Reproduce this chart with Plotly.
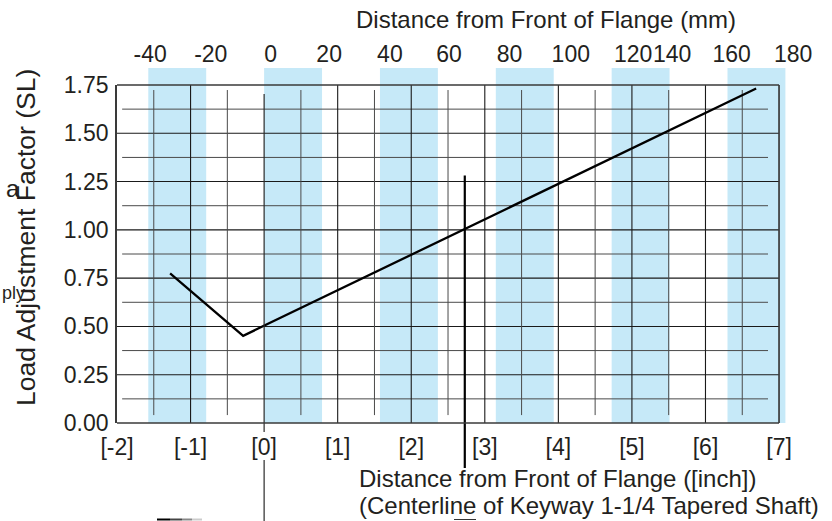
import plotly.graph_objects as go

# ---------------- data ----------------
curve_x_inch = [-1.278, -0.285, 6.689]
curve_y = [0.775, 0.4515, 1.732]

bottom_tick_vals = [-2, -1, 0, 1, 2, 3, 4, 5, 6, 7]
bottom_tick_text = ["[-2]", "[-1]", "[0]", "[1]", "[2]", "[3]", "[4]", "[5]", "[6]", "[7]"]

top_tick_text = ["-40", "-20", "0", "20", "40", "60", "80", "100", "120", "140", "160", "180"]
# positions (bottom-axis inch scale) where the mm labels are printed in the reference
top_tick_pos = [-1.550, -0.725, 0.088, 0.884, 1.710, 2.515, 3.337, 4.169, 5.016, 5.546, 6.355, 7.191]

y_tick_vals = [0, 0.25, 0.5, 0.75, 1.0, 1.25, 1.5, 1.75]

band_mm = [(-40, -20), (0, 20), (40, 60), (80, 100), (120, 140), (160, 180)]

# ---------------- layout constants ----------------
W, H = 832, 521
ML, MR, MT, MB = 117, 32, 85, 98
XR = [-2, -2 + (W - ML - MR) / 73.56]
YR = [0, 1.75]
TXT = "#231f20"
FONT = "Liberation Sans, Arial, sans-serif"

PW = W - ML - MR
PH = H - MT - MB


def xp_px(px):
    return (px - ML) / PW


def yp_px(py):
    return (H - MB - py) / PH


def xp(v):
    return (v - XR[0]) / (XR[1] - XR[0])


shapes = []
# light blue bands
for a, b in band_mm:
    shapes.append(dict(type="rect", xref="x", yref="paper", x0=a / 25.4, x1=b / 25.4,
                       y0=0, y1=yp_px(68), fillcolor="#c6e9f8", line=dict(width=0), layer="below"))

# minor horizontal lines
for i in range(14):
    yv = 0.125 + 0.25 * i
    if yv >= 1.75:
        break
    shapes.append(dict(type="line", xref="x", yref="y", x0=-1.93, x1=6.85, y0=yv, y1=yv,
                       line=dict(color="#4a4a4a", width=1), layer="below"))
# major horizontal lines
for yv in [0.25, 0.5, 0.75, 1.0, 1.25, 1.5]:
    shapes.append(dict(type="line", xref="x", yref="y", x0=-2, x1=7, y0=yv, y1=yv,
                       line=dict(color="#1a1a1a", width=1.1), layer="below"))
# minor vertical lines
for k in range(-3, 14, 2):
    xv = k / 2
    shapes.append(dict(type="line", xref="x", yref="y", x0=xv, x1=xv, y0=0.041, y1=1.724,
                       line=dict(color="#4a4a4a", width=1), layer="below"))
# major vertical lines
for xv in [-1, 1, 2, 3, 4, 5, 6]:
    shapes.append(dict(type="line", xref="x", yref="y", x0=xv, x1=xv, y0=0, y1=1.75,
                       line=dict(color="#1a1a1a", width=1.1), layer="below"))
# long line at [0]
shapes.append(dict(type="line", xref="x", yref="paper", x0=0, x1=0, y0=yp_px(94), y1=yp_px(432),
                   line=dict(color="#2a2a2a", width=1.2)))
shapes.append(dict(type="line", xref="x", yref="paper", x0=0, x1=0, y0=yp_px(460), y1=yp_px(521),
                   line=dict(color="#2a2a2a", width=1.2)))
# thick vertical line near [2.7]
shapes.append(dict(type="line", xref="x", yref="paper", x0=2.728, x1=2.728, y0=yp_px(175.5), y1=yp_px(468),
                   line=dict(color="#000000", width=2.2)))

# frame (top, right, bottom) — left side via y axis line
fr = dict(color="#3a3a3a", width=1.7)
shapes.append(dict(type="line", xref="paper", yref="paper", x0=0, x1=xp(7), y0=1, y1=1, line=fr))
shapes.append(dict(type="line", xref="paper", yref="paper", x0=0, x1=xp(7), y0=0, y1=0, line=fr))
shapes.append(dict(type="line", xref="paper", yref="paper", x0=xp(7), x1=xp(7), y0=0, y1=1, line=fr))

# small fading line at the bottom and underline
for (a, b, c) in [(157, 170, "#000000"), (170, 182, "#444444"), (182, 192, "#888888"), (192, 202, "#cccccc")]:
    shapes.append(dict(type="line", xref="paper", yref="paper", x0=xp_px(a), x1=xp_px(b),
                       y0=yp_px(519.5), y1=yp_px(519.5), line=dict(color=c, width=2)))
shapes.append(dict(type="line", xref="paper", yref="paper", x0=xp_px(454), x1=xp_px(476),
                   y0=yp_px(519.5), y1=yp_px(519.5), line=dict(color="#333333", width=1)))

annotations = [
    dict(text="Distance from Front of Flange (mm)", xref="paper", yref="paper",
         x=xp_px(546), y=yp_px(19.5), xanchor="center", yanchor="middle", showarrow=False,
         font=dict(size=24, color=TXT, family=FONT)),
    dict(text="Distance from Front of Flange ([inch])", xref="paper", yref="paper",
         x=xp_px(357), y=yp_px(478.5), xanchor="left", yanchor="middle", showarrow=False,
         font=dict(size=24, color=TXT, family=FONT)),
    dict(text="(Centerline of Keyway 1-1/4 Tapered Shaft)", xref="paper", yref="paper",
         x=xp_px(357), y=yp_px(505.5), xanchor="left", yanchor="middle", showarrow=False,
         font=dict(size=24, color=TXT, family=FONT)),
    dict(text="Load Adjustment Factor (SL)", xref="paper", yref="paper", textangle=-90,
         x=xp_px(26), y=yp_px(238), xanchor="center", yanchor="middle", showarrow=False,
         font=dict(size=26.5, color=TXT, family=FONT)),
    dict(text="a", xref="paper", yref="paper",
         x=xp_px(12.5), y=yp_px(188), xanchor="center", yanchor="middle", showarrow=False,
         font=dict(size=24, color=TXT, family=FONT)),
    dict(text="ply", xref="paper", yref="paper",
         x=xp_px(0), y=yp_px(293), xanchor="left", yanchor="middle", showarrow=False,
         font=dict(size=18, color=TXT, family=FONT)),
]

fig = go.Figure()
fig.add_trace(go.Scatter(x=curve_x_inch, y=curve_y, mode="lines",
                         line=dict(color="#000000", width=2.3), showlegend=False))
fig.add_trace(go.Scatter(x=[], y=[], xaxis="x2", yaxis="y", showlegend=False, hoverinfo="skip"))

fig.update_layout(
    width=W, height=H,
    margin=dict(l=ML, r=MR, t=MT, b=MB, autoexpand=False),
    paper_bgcolor="white", plot_bgcolor="white",
    font=dict(family=FONT, color=TXT, size=23),
    showlegend=False,
    xaxis=dict(range=XR, tickvals=bottom_tick_vals, ticktext=bottom_tick_text,
               showgrid=False, zeroline=False, showline=False, ticks="", tickangle=0,
               tickfont=dict(size=23, color=TXT), ticklabelstandoff=8),
    xaxis2=dict(range=XR, overlaying="x", side="top", anchor="y",
                tickvals=top_tick_pos, ticktext=top_tick_text, tickangle=0,
                showgrid=False, zeroline=False, showline=False, ticks="",
                tickfont=dict(size=23, color=TXT), ticklabelstandoff=17),
    yaxis=dict(range=YR, tickvals=y_tick_vals, tickformat=".2f",
               showgrid=False, zeroline=False, showline=True, linecolor="#3a3a3a", linewidth=1.7,
               ticks="", tickfont=dict(size=23, color=TXT), ticklabelstandoff=2),
    shapes=shapes,
    annotations=annotations,
)

fig.write_html("out.html", config={"displayModeBar": False},
               post_script="document.body.style.margin='0';document.body.style.overflow='hidden';")
